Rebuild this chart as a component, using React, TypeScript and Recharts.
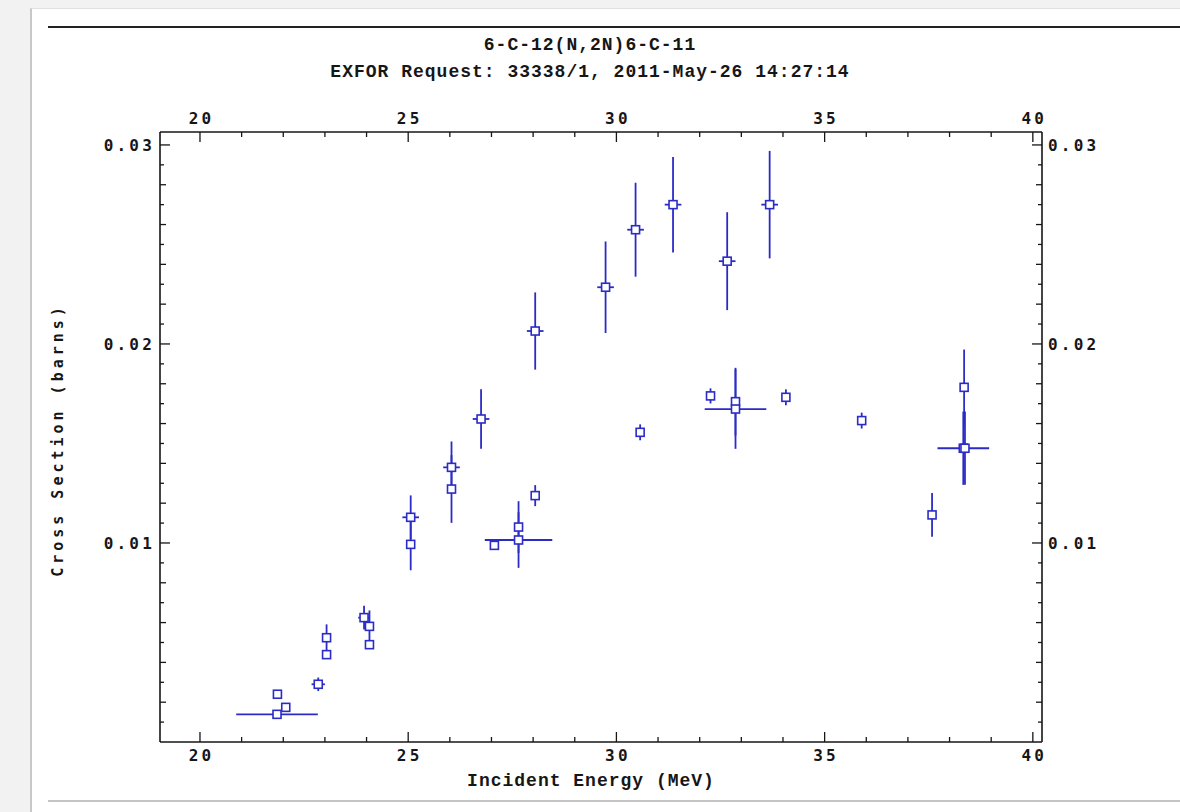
import React from "react";
import { ErrorBar, Scatter, ScatterChart, XAxis, YAxis } from "recharts";

const energy = [21.86, 21.85, 22.06, 22.84, 23.04, 23.04, 23.94, 24.07, 24.07, 25.06, 25.06, 26.04, 26.04, 27.07, 27.65, 27.65, 28.05, 26.75, 28.05, 29.74, 30.57, 30.46, 31.36, 32.66, 33.68, 32.26, 32.86, 32.86, 34.07, 35.89, 37.58, 38.35, 38.33, 38.37];
const crossSection = [0.0024, 0.00139, 0.00174, 0.0029, 0.00524, 0.00439, 0.00625, 0.00581, 0.00489, 0.01129, 0.00993, 0.0138, 0.01271, 0.00988, 0.01015, 0.0108, 0.01238, 0.01623, 0.02065, 0.02285, 0.01556, 0.02574, 0.027, 0.02416, 0.027, 0.01739, 0.0171, 0.01673, 0.01732, 0.01615, 0.01141, 0.01782, 0.01476, 0.01476];
const energyErr = [0, 0.98, 0, 0.16, 0.1, 0, 0.14, 0, 0, 0.2, 0.1, 0.2, 0.05, 0, 0.81, 0, 0, 0.2, 0.2, 0.2, 0, 0.2, 0.2, 0.2, 0.2, 0, 0, 0.74, 0, 0, 0, 0, 0.62, 0];
const crossSectionErr = [0.00012, 0, 0.0002, 0.00034, 0.00067, 0, 0.0006, 0.0008, 0, 0.0011, 0.0013, 0.0013, 0.0017, 0, 0.0014, 0.0013, 0.00053, 0.0015, 0.00194, 0.0023, 0.0004, 0.00236, 0.0024, 0.00246, 0.0027, 0.00038, 0.0017, 0.002, 0.0004, 0.0004, 0.0011, 0.0019, 0.00184, 0.00184];

const xTicks = [20, 21, 22, 23, 24, 25, 26, 27, 28, 29, 30, 31, 32, 33, 34, 35, 36, 37, 38, 39, 40];
const xMajor = [20, 25, 30, 35, 40];
const yTicks = [0.001, 0.002, 0.003, 0.004, 0.005, 0.006, 0.007, 0.008, 0.009, 0.01, 0.011, 0.012, 0.013, 0.014, 0.015, 0.016, 0.017, 0.018, 0.019, 0.02, 0.021, 0.022, 0.023, 0.024, 0.025, 0.026, 0.027, 0.028, 0.029, 0.03];
const yMajor = [0.01, 0.02, 0.03];
const yMajorLabels = ["0.01", "0.02", "0.03"];

const points = energy.map((e, i) => ({ e, s: crossSection[i], dE: energyErr[i], dS: crossSectionErr[i] }));

const ink = "#161616";
const blue = "#2b2bc6";
const tickFont = { fontFamily: "DejaVu Sans Mono", fontWeight: 700, fontSize: 16, letterSpacing: 3.2, fill: ink };
const titleFont: React.CSSProperties = { fontFamily: "Liberation Mono", fontWeight: 700, fontSize: 18, letterSpacing: 1, color: ink, whiteSpace: "nowrap" };

const yMajorIndex = (v: number) => yMajor.findIndex((m) => Math.abs(m - v) < 1e-7);
const yTickLen = (v: number) => {
  if (yMajorIndex(v) >= 0) return 10;
  return Math.round(v * 1000) % 2 === 0 ? 6 : 4;
};

const BottomTick = (props: any) => {
  const { x, y, payload } = props;
  const major = xMajor.includes(payload.value);
  return (
    <g>
      <line x1={x} y1={y} x2={x} y2={y - (major ? 10 : 5)} stroke={ink} strokeWidth={1.3} />
      {major && <text x={x + 1.5} y={y + 19} textAnchor="middle" {...tickFont}>{payload.value}</text>}
    </g>
  );
};

const TopTick = (props: any) => {
  const { x, y, payload } = props;
  const major = xMajor.includes(payload.value);
  return (
    <g>
      <line x1={x} y1={y} x2={x} y2={y + (major ? 10 : 5)} stroke={ink} strokeWidth={1.3} />
      {major && <text x={x + 1.5} y={y - 8} textAnchor="middle" {...tickFont}>{payload.value}</text>}
    </g>
  );
};

const LeftTick = (props: any) => {
  const { x, y, payload } = props;
  const idx = yMajorIndex(payload.value);
  return (
    <g>
      <line x1={x} y1={y} x2={x + yTickLen(payload.value)} y2={y} stroke={ink} strokeWidth={1.3} />
      {idx >= 0 && <text x={x - 5} y={y + 6} textAnchor="end" {...tickFont}>{yMajorLabels[idx]}</text>}
    </g>
  );
};

const RightTick = (props: any) => {
  const { x, y, payload } = props;
  const idx = yMajorIndex(payload.value);
  return (
    <g>
      <line x1={x} y1={y} x2={x - yTickLen(payload.value)} y2={y} stroke={ink} strokeWidth={1.3} />
      {idx >= 0 && <text x={x + 6} y={y + 6} textAnchor="start" {...tickFont}>{yMajorLabels[idx]}</text>}
    </g>
  );
};

const OpenSquare = (props: any) => {
  const { cx, cy } = props;
  return <rect x={cx - 4} y={cy - 4} width={8} height={8} fill="#ffffff" stroke={blue} strokeWidth={1.6} />;
};

const xDomain = [19.04, 40.22];
const yDomain = [0, 0.03065];
const axisLine = { stroke: ink, strokeWidth: 1.6 };

export default function App() {
  return (
    <div style={{ position: "absolute", left: 0, top: 0, width: 1180, height: 812, background: "#f2f2f2", overflow: "hidden" }}>
      <div style={{ position: "absolute", left: 30, top: 8, width: 1170, height: 830, background: "#fff", borderLeft: "2px solid #c8c8c8", borderTop: "1px solid #e0e0e0" }} />
      <div style={{ position: "absolute", left: 48, top: 26, width: 1140, height: 2, background: "#222" }} />
      <div style={{ position: "absolute", left: 48, top: 800, width: 1140, height: 2, background: "#c4c4c4" }} />

      <div style={{ position: "absolute", left: 0, width: 1180, top: 35, textAlign: "center", ...titleFont }}>6-C-12(N,2N)6-C-11</div>
      <div style={{ position: "absolute", left: 0, width: 1180, top: 62, textAlign: "center", ...titleFont }}>EXFOR Request: 33338/1, 2011-May-26 14:27:14</div>
      <div style={{ position: "absolute", left: 160, width: 862, top: 771, textAlign: "center", ...titleFont }}>Incident Energy (MeV)</div>
      <div
        style={{
          position: "absolute",
          left: 58,
          top: 440,
          transform: "translate(-50%, -50%) rotate(-90deg)",
          fontFamily: "DejaVu Sans Mono",
          fontWeight: 700,
          fontSize: 15,
          letterSpacing: 4,
          color: ink,
          whiteSpace: "nowrap",
        }}
      >
        Cross Section (barns)
      </div>

      <div style={{ position: "absolute", left: 0, top: 0 }}>
        <ScatterChart width={1180} height={812} margin={{ top: 102, right: 78, bottom: 40, left: 100 }}>
          <XAxis xAxisId="b" type="number" dataKey="e" orientation="bottom" height={30} domain={xDomain} allowDataOverflow ticks={xTicks} interval={0} tickSize={0} tickMargin={0} tickLine={false} axisLine={axisLine} tick={BottomTick} />
          <XAxis xAxisId="t" type="number" dataKey="e" orientation="top" height={30} domain={xDomain} allowDataOverflow ticks={xTicks} interval={0} tickSize={0} tickMargin={0} tickLine={false} axisLine={axisLine} tick={TopTick} />
          <YAxis yAxisId="l" type="number" dataKey="s" orientation="left" width={60} domain={yDomain} allowDataOverflow ticks={yTicks} interval={0} tickSize={0} tickMargin={0} tickLine={false} axisLine={axisLine} tick={LeftTick} />
          <YAxis yAxisId="r" type="number" dataKey="s" orientation="right" width={60} domain={yDomain} allowDataOverflow ticks={yTicks} interval={0} tickSize={0} tickMargin={0} tickLine={false} axisLine={axisLine} tick={RightTick} />
          <Scatter xAxisId="t" yAxisId="r" data={points} fill="none" shape={() => <g />} isAnimationActive={false} />
          <Scatter xAxisId="b" yAxisId="l" data={points} shape={OpenSquare} isAnimationActive={false}>
            <ErrorBar dataKey="dE" direction="x" width={0} stroke={blue} strokeWidth={1.8} isAnimationActive={false} />
            <ErrorBar dataKey="dS" direction="y" width={0} stroke={blue} strokeWidth={1.8} isAnimationActive={false} />
          </Scatter>
        </ScatterChart>
      </div>
    </div>
  );
}
